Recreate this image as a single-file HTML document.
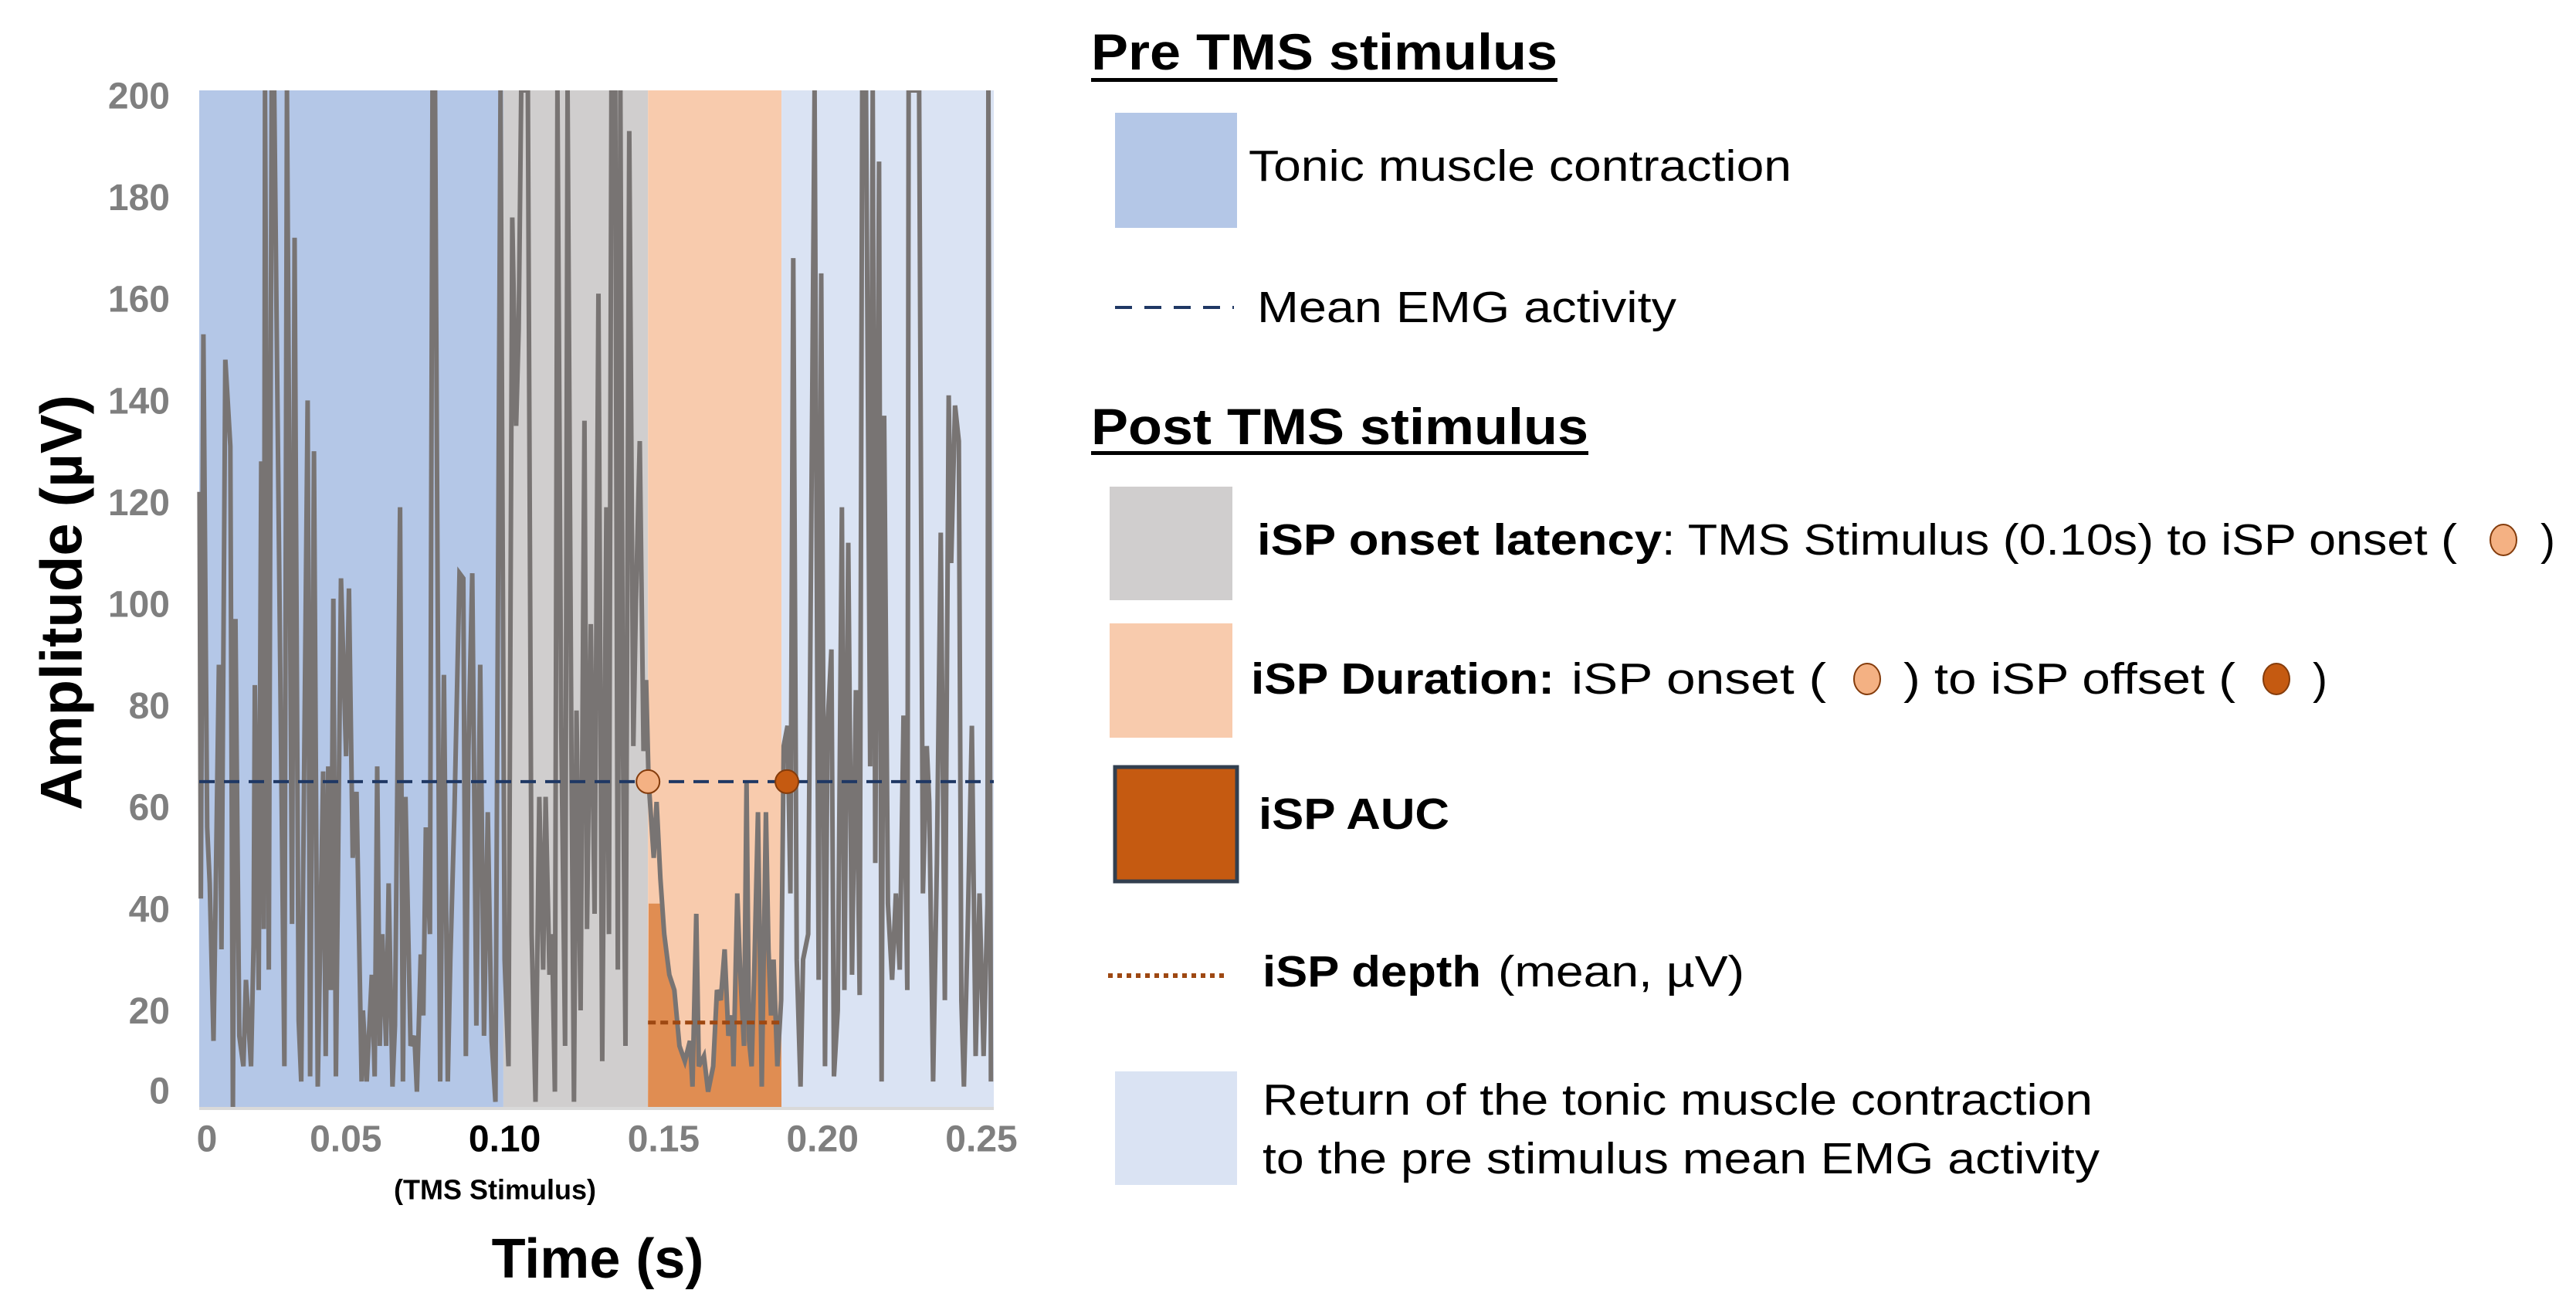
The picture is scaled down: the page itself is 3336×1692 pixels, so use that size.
<!DOCTYPE html>
<html><head><meta charset="utf-8"><style>
html,body{margin:0;padding:0;background:#fff;}
svg{display:block;font-family:"Liberation Sans",Arial,sans-serif;}
</style></head><body>
<svg id="chart" width="3336" height="1692" viewBox="0 0 3336 1692" xmlns="http://www.w3.org/2000/svg">
<rect width="3336" height="1692" fill="#ffffff"/>
<g id="plot"></g>
<g id="axes"></g>
<text transform="translate(80,780) rotate(-90)" text-anchor="middle" dominant-baseline="central" font-size="76" font-weight="bold" fill="#000">Amplitude (µV)</text>
<text x="774" y="1630" text-anchor="middle" dominant-baseline="central" font-size="72" font-weight="bold" fill="#000">Time (s)</text>
<text x="641" y="1540" text-anchor="middle" dominant-baseline="central" font-size="36" font-weight="bold" fill="#000">(TMS Stimulus)</text>

<g font-size="57" fill="#000">
  <text x="1413" y="90" font-size="66" font-weight="bold" textLength="604" lengthAdjust="spacingAndGlyphs">Pre TMS stimulus</text>
  <rect x="1413" y="101" width="604" height="5" fill="#000"/>
  <rect x="1444" y="146" width="158" height="149" fill="#b4c7e7"/>
  <text x="1617" y="215" dominant-baseline="central" textLength="703" lengthAdjust="spacingAndGlyphs">Tonic muscle contraction</text>
  <line x1="1444" y1="398" x2="1598" y2="398" stroke="#1f3864" stroke-width="4" stroke-dasharray="22,16"/>
  <text x="1628" y="398" dominant-baseline="central" textLength="543" lengthAdjust="spacingAndGlyphs">Mean EMG activity</text>

  <text x="1413" y="575" font-size="66" font-weight="bold" textLength="644" lengthAdjust="spacingAndGlyphs">Post TMS stimulus</text>
  <rect x="1413" y="584" width="644" height="5" fill="#000"/>

  <rect x="1437" y="630" width="159" height="147" fill="#d0cece"/>
  <text y="699" dominant-baseline="central">
    <tspan x="1628" font-weight="bold" textLength="524" lengthAdjust="spacingAndGlyphs">iSP onset latency</tspan><tspan x="2152" textLength="1030" lengthAdjust="spacingAndGlyphs">: TMS Stimulus (0.10s) to iSP onset (</tspan><tspan x="3290">)</tspan>
  </text>
  <ellipse cx="3242" cy="699" rx="17" ry="20" fill="#f4b183" stroke="#843c0c" stroke-width="2"/>

  <rect x="1437" y="807" width="159" height="148" fill="#f8cbad"/>
  <text y="879" dominant-baseline="central">
    <tspan x="1620" font-weight="bold" textLength="393" lengthAdjust="spacingAndGlyphs">iSP Duration:</tspan><tspan x="2035" textLength="330" lengthAdjust="spacingAndGlyphs">iSP onset (</tspan><tspan x="2465" textLength="430" lengthAdjust="spacingAndGlyphs">) to iSP offset (</tspan><tspan x="2995">)</tspan>
  </text>
  <ellipse cx="2418" cy="879" rx="17" ry="20" fill="#f4b183" stroke="#843c0c" stroke-width="2"/>
  <ellipse cx="2948" cy="879" rx="17" ry="20" fill="#c55a11" stroke="#843c0c" stroke-width="2"/>

  <rect x="1444" y="993" width="158" height="148" fill="#c55a11" stroke="#323f4f" stroke-width="5"/>
  <text x="1630" y="1054" dominant-baseline="central" font-weight="bold" textLength="247" lengthAdjust="spacingAndGlyphs">iSP AUC</text>

  <line x1="1435" y1="1263" x2="1588" y2="1263" stroke="#9e4812" stroke-width="6" stroke-dasharray="6,6"/>
  <text y="1258" dominant-baseline="central">
    <tspan x="1635" font-weight="bold" textLength="283" lengthAdjust="spacingAndGlyphs">iSP depth</tspan><tspan x="1940" textLength="319" lengthAdjust="spacingAndGlyphs">(mean, µV)</tspan>
  </text>

  <rect x="1444" y="1387" width="158" height="147" fill="#dae3f3"/>
  <text x="1635" y="1424" dominant-baseline="central" textLength="1075" lengthAdjust="spacingAndGlyphs">Return of the tonic muscle contraction</text>
  <text x="1635" y="1500" dominant-baseline="central" textLength="1084" lengthAdjust="spacingAndGlyphs">to the pre stimulus mean EMG activity</text>
</g>
</svg>
<script>
// ---- data ----
const timesMs = [0.1,0.5,1.3,2.5,3.3,4.5,4.9,6.2,7.0,8.2,9.8,10.6,11.4,12.6,13.9,14.7,16.3,17.1,17.5,18.7,19.5,20.3,20.7,21.9,22.8,23.6,26.8,27.6,29.2,30.0,31.3,32.1,34.1,34.9,36.1,37.3,39.0,39.8,40.6,41.4,42.2,43.0,44.6,46.2,47.1,48.3,49.5,51.1,51.5,52.7,54.3,55.2,56.0,56.8,57.6,58.8,59.6,60.8,61.6,63.2,64.1,64.9,66.5,67.7,68.5,69.7,70.5,71.3,72.6,73.4,74.2,75.8,77.0,78.2,79.0,80.3,81.9,
83.1,83.9,84.7,85.9,87.2,88.4,89.6,90.8,92.0,93.2,94.8,96.1,97.3,98.5,99.7,100.5,101.3,103.4,104.6,105.8,107.0,108.2,109.0,110.2,111.0,111.9,112.7,113.9,115.1,115.9,117.1,117.9,118.7,120.0,121.2,122.0,123.2,124.4,125.6,126.8,128.1,128.9,129.7,130.9,131.7,132.5,133.3,134.1,135.3,136.6,137.4,138.6,139.8,140.6,141.4,143.0,143.9,145.1,146.3,147.9,149.5,151.1,152.8,154.4,155.2,156.4,157.2,158.8,160.1,161.7,162.9,164.1,165.3,166.5,167.7,
168.1,169.3,170.2,171.4,172.2,173.0,173.8,174.6,175.8,177.0,178.3,179.1,179.9,180.7,181.9,183.1,183.9,185.1,186.0,186.9,188.0,189.2,190.0,191.6,192.4,193.6,194.9,195.7,196.9,197.7,198.9,199.7,200.9,202.2,203.0,204.2,205.4,206.6,207.8,208.6,209.8,211.1,211.9,212.7,213.9,214.7,215.5,216.7,218.0,219.2,220.4,221.6,222.8,223.2,224.8,226.5,227.7,228.9,229.7,230.9,232.1,233.3,234.6,235.8,236.6,237.8,239.0,239.8,240.6,241.8,243.1,244.3,245.5,246.8,248.0,248.3,249.1];
const amplitudes = [121,41,152,55,44,13,30,87,31,147,130,0,96,14,8,25,8,32,83,23,127,35,200,27,200,200,8,200,36,171,17,5,139,6,129,4,66,10,67,23,100,6,104,69,102,49,62,5,19,5,26,6,67,12,34,12,44,4,16,118,5,61,12,14,3,30,18,55,34,200,200,5,85,5,29,58,105,
104,10,70,105,16,87,14,58,13,1,200,29,8,175,134,153,200,200,34,1,61,27,61,26,34,3,200,75,12,200,70,1,78,19,135,35,95,38,160,9,118,34,200,200,27,200,73,12,192,71,99,131,70,84,64,49,60,45,34,26,23,12,9,13,4,38,8,10,3,8,23,21,31,14,18,
8,42,27,12,64,13,8,26,58,4,58,31,18,29,8,21,71,75,42,167,29,4,29,34,100,200,25,164,8,75,90,6,19,118,23,111,26,82,22,200,200,67,200,48,186,5,136,40,25,42,27,77,23,200,200,200,42,71,60,5,48,113,21,140,107,138,131,21,4,35,75,10,42,10,40,200,5];
const yTickValues = [0,20,40,60,80,100,120,140,160,180,200];
const xTickValues = [0,0.05,0.10,0.15,0.20,0.25];
const xTickLabels = ["0","0.05","0.10","0.15","0.20","0.25"];
const regionStarts = [0,0.0957,0.1412,0.1832];
const regionEnds = [0.0957,0.1412,0.1832,0.25];
const regionNames = ["tonic-contraction-region","onset-latency-region","isp-duration-region","return-region"];
const regionColors = ["#b4c7e7","#d0cece","#f8cbad","#dae3f3"];
const meanEmg = 64;
const ispDepth = 16.6;
const ispOnset = 0.1412;
const ispOffset = 0.1849;

// ---- axes ----
const X0=258, X1=1287, Y0=1433, Y1=117;
const xScale = v => X0 + (v/0.25)*(X1-X0);
const yScale = v => Y0 - (Math.min(v,200)/200)*(Y0-Y1);
const NS="http://www.w3.org/2000/svg";
const plot=document.getElementById('plot');
const axes=document.getElementById('axes');
function mk(tag, attrs, parent){const e=document.createElementNS(NS,tag);for(const k in attrs)e.setAttribute(k,attrs[k]);parent.appendChild(e);return e;}

regionStarts.forEach((s,i)=>{
  const r=mk('rect',{x:xScale(s),y:Y1,width:xScale(regionEnds[i])-xScale(s),height:Y0-Y1,fill:regionColors[i]},plot);
  
  
});

const ts = timesMs.map(t=>t/1000);
let aucPts=[[xScale(ispOnset),Y0]];
for(let i=0;i<ts.length;i++){ if(ts[i]>=ispOnset && ts[i]<=regionEnds[2]) aucPts.push([xScale(ts[i]),yScale(Math.min(amplitudes[i],40))]); }
aucPts.push([xScale(regionEnds[2]),Y0]);
const auc=mk('polygon',{points:aucPts.map(p=>p.join(',')).join(' '),fill:'#e08d52'},plot);



const d = ts.map((t,i)=>(i?'L':'M')+xScale(t).toFixed(1)+','+yScale(amplitudes[i]).toFixed(1)).join('');
const sig=mk('path',{d:d,fill:'none',stroke:'#787473','stroke-width':6,'stroke-linejoin':'miter'},plot);


const cover=mk('rect',{x:X0-10,y:0,width:X1-X0+20,height:Y1,fill:'#fff'},plot);


const base=mk('line',{x1:X0,y1:Y0+2,x2:X1,y2:Y0+2,stroke:'#d9d9d9','stroke-width':4},plot);



const ml=mk('line',{x1:X0,y1:yScale(meanEmg),x2:X1,y2:yScale(meanEmg),stroke:'#1f3864','stroke-width':4,'stroke-dasharray':'20,12'},plot);


const dl=mk('line',{x1:xScale(ispOnset),y1:yScale(ispDepth),x2:xScale(regionEnds[2]),y2:yScale(ispDepth),stroke:'#9e4812','stroke-width':5,'stroke-dasharray':'10,6'},plot);


const m1=mk('ellipse',{cx:xScale(ispOnset),cy:yScale(meanEmg),rx:15,ry:15,fill:'#f4b183',stroke:'#843c0c','stroke-width':2},plot);


const m2=mk('ellipse',{cx:xScale(ispOffset),cy:yScale(meanEmg),rx:15,ry:15,fill:'#c55a11',stroke:'#843c0c','stroke-width':2},plot);



yTickValues.forEach(v=>{
  const yy = v===0 ? Y0-20 : yScale(v)+8;
  const t=mk('text',{x:220,y:yy,'text-anchor':'end','dominant-baseline':'central','font-size':48,'font-weight':'bold',fill:'#7f7f7f'},axes);
  t.textContent=String(v);
  
  
});
xTickValues.forEach((v,i)=>{
  const xx = i===0 ? xScale(v)+10 : xScale(v)-16;
  const t=mk('text',{x:xx,y:1475,'text-anchor':'middle','dominant-baseline':'central','font-size':48,'font-weight':'bold',fill:(i===2?'#000':'#7f7f7f')},axes);
  t.textContent=xTickLabels[i];
  
  
});
</script>
</body></html>
